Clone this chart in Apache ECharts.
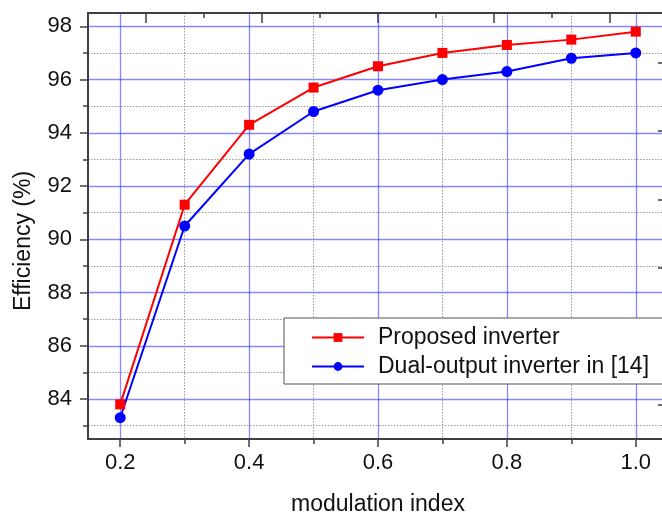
<!DOCTYPE html>
<html><head><meta charset="utf-8">
<script src="https://cdn.jsdelivr.net/npm/echarts@6/dist/echarts.min.js"></script>
<style>html,body{margin:0;padding:0;background:#fff}#c{width:662px;height:515px}</style>
</head><body><div id="c"></div>
<script>
const modIndex = [0.2, 0.3, 0.4, 0.5, 0.6, 0.7, 0.8, 0.9, 1.0];
const proposed = [83.8, 91.3, 94.3, 95.7, 96.5, 97.0, 97.3, 97.5, 97.8];
const dualOutput = [83.3, 90.5, 93.2, 94.8, 95.6, 96.0, 96.3, 96.8, 97.0];
const seriesNames = ['Proposed inverter', 'Dual-output inverter in [14]'];
const xName = 'modulation index';
const yName = 'Efficiency (%)';
const xRange = [0.15, 1.05];
const yRange = [82.5, 98.5];
const xMajorTicks = [0.2, 0.4, 0.6, 0.8, 1.0];
const xMinorTicks = [0.3, 0.5, 0.7, 0.9];
const yMajorTicks = [84, 86, 88, 90, 92, 94, 96, 98];
const yMinorTicks = [83, 85, 87, 89, 91, 93, 95, 97];
const topMajorTicks = [1, 3, 5, 7, 9];
const topMinorTicks = [2, 4, 6, 8];
const rightTicks = [8.0, 24.1, 40.1, 56.2, 72.3, 88.4];

const FONT = 'Liberation Sans, Arial, sans-serif';
const AXIS_COLOR = '#404040';
const chart = echarts.init(document.getElementById('c'), null, {renderer: 'canvas'});

const majorSplit = {show: true, lineStyle: {color: 'rgba(40,40,255,0.55)', width: 1.3}};
const minorSplit = {show: true, lineStyle: {color: '#9a9a9a', width: 1, type: [1.5, 1.5]}};
const hiddenLine = {show: false};

const option = {
  animation: false,
  backgroundColor: '#fff',
  grid: {left: 88, top: 13, width: 580, height: 426, containLabel: false, outerBoundsMode: 'none'},
  legend: {
    orient: 'vertical', left: 284, top: 318,
    padding: [8, 14, 6, 27],
    itemGap: 6, itemWidth: 52, itemHeight: 11,
    backgroundColor: '#fff', borderColor: '#555', borderWidth: 1, borderRadius: 0,
    textStyle: {fontFamily: FONT, fontSize: 23, color: '#111', lineHeight: 23, padding: [0, 0, 0, 9]},
    data: seriesNames
  },
  xAxis: [
    {
      type: 'value', position: 'bottom', min: xRange[0], max: xRange[1],
      name: xName, nameLocation: 'middle', nameGap: 54,
      nameTextStyle: {fontFamily: FONT, fontSize: 23, color: '#111'},
      axisLine: {show: true, onZero: false, lineStyle: {color: AXIS_COLOR, width: 2}},
      axisTick: {show: true, inside: false, length: 8, customValues: xMajorTicks, lineStyle: {color: AXIS_COLOR, width: 1.5}},
      axisLabel: {show: true, margin: 13, customValues: xMajorTicks, fontFamily: FONT, fontSize: 22, color: '#111',
        formatter: v => v.toFixed(1)},
      splitLine: majorSplit, z: 3
    },
    {
      type: 'value', position: 'bottom', min: xRange[0], max: xRange[1],
      axisLine: {show: false, onZero: false},
      axisTick: {show: true, inside: false, length: 5, customValues: xMinorTicks, lineStyle: {color: AXIS_COLOR, width: 1.5}},
      axisLabel: {show: false},
      splitLine: minorSplit
    },
    {
      type: 'value', position: 'top', min: 0, max: 10,
      axisLine: {show: true, onZero: false, lineStyle: {color: AXIS_COLOR, width: 2}},
      axisTick: {show: true, inside: true, length: 10, customValues: topMajorTicks, lineStyle: {color: AXIS_COLOR, width: 1.5}},
      axisLabel: {show: false}, splitLine: hiddenLine
    },
    {
      type: 'value', position: 'top', min: 0, max: 10,
      axisLine: {show: false, onZero: false},
      axisTick: {show: true, inside: true, length: 5, customValues: topMinorTicks, lineStyle: {color: AXIS_COLOR, width: 1.5}},
      axisLabel: {show: false}, splitLine: hiddenLine
    }
  ],
  yAxis: [
    {
      type: 'value', position: 'left', min: yRange[0], max: yRange[1],
      name: yName, nameLocation: 'middle', nameGap: 53,
      nameTextStyle: {fontFamily: FONT, fontSize: 23, color: '#111', padding: [0, 30, 0, 0]},
      axisLine: {show: true, onZero: false, lineStyle: {color: AXIS_COLOR, width: 2}},
      axisTick: {show: true, inside: false, length: 8, customValues: yMajorTicks, lineStyle: {color: AXIS_COLOR, width: 1.5}},
      axisLabel: {show: true, margin: 16, customValues: yMajorTicks, fontFamily: FONT, fontSize: 22, color: '#111'},
      splitLine: majorSplit
    },
    {
      type: 'value', position: 'left', min: yRange[0], max: yRange[1],
      axisLine: {show: false, onZero: false},
      axisTick: {show: true, inside: false, length: 5, customValues: yMinorTicks, lineStyle: {color: AXIS_COLOR, width: 1.5}},
      axisLabel: {show: false},
      splitLine: minorSplit
    },
    {
      type: 'value', position: 'right', min: 0, max: 100,
      axisLine: {show: true, onZero: false, lineStyle: {color: AXIS_COLOR, width: 2}},
      axisTick: {show: true, inside: true, length: 10, customValues: rightTicks, lineStyle: {color: AXIS_COLOR, width: 1.5}},
      axisLabel: {show: false}, splitLine: hiddenLine
    }
  ],
  series: [
    {
      name: seriesNames[0], type: 'line', xAxisIndex: 0, yAxisIndex: 0,
      data: modIndex.map((x, i) => [x, proposed[i]]),
      symbol: 'rect', symbolSize: 10, showAllSymbol: true,
      lineStyle: {color: '#ff0000', width: 2}, itemStyle: {color: '#ff0000'}, z: 5
    },
    {
      name: seriesNames[1], type: 'line', xAxisIndex: 0, yAxisIndex: 0,
      data: modIndex.map((x, i) => [x, dualOutput[i]]),
      symbol: 'circle', symbolSize: 11, showAllSymbol: true,
      lineStyle: {color: '#0000ff', width: 2}, itemStyle: {color: '#0000ff'}, z: 4
    }
  ]
};
chart.setOption(option);
</script>
</body></html>
